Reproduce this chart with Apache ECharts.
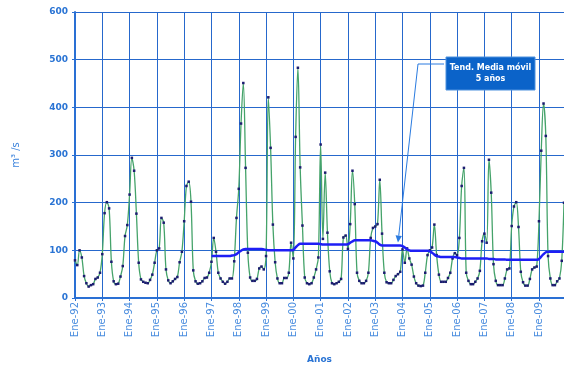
<!DOCTYPE html>
<html>
<head>
<meta charset="utf-8">
<script src="https://cdn.jsdelivr.net/npm/echarts@6/dist/echarts.min.js"></script>
<style>
  html, body { margin: 0; padding: 0; background: #ffffff; overflow: hidden; }
  #chart { width: 564px; height: 369px; }
</style>
</head>
<body>
<div id="chart"></div>
<script>
// Monthly mean flow (m3/s), January to December of each year
const yearLabels = ['92','93','94','95','96','97','98','99','00','01','02','03','04','05','06','07','08','09'];
const monthNames = ['Ene','Feb','Mar','Abr','May','Jun','Jul','Ago','Sep','Oct','Nov','Dic'];

const flow1992 = [79, 69, 100, 85, 46, 31, 24, 27, 29, 40, 43, 53];
const flow1993 = [92, 178, 201, 188, 76, 35, 29, 30, 45, 67, 130, 153];
const flow1994 = [217, 294, 267, 177, 74, 39, 34, 32, 31, 38, 49, 74];
const flow1995 = [100, 104, 168, 158, 60, 37, 31, 35, 40, 44, 75, 97];
const flow1996 = [161, 235, 244, 202, 58, 35, 30, 31, 35, 42, 43, 53];
const flow1997 = [76, 126, 97, 53, 41, 34, 30, 34, 41, 41, 77, 168];
const flow1998 = [229, 366, 451, 273, 95, 43, 36, 36, 40, 62, 66, 60];
const flow1999 = [88, 421, 315, 154, 75, 41, 31, 31, 42, 42, 53, 116];
const flow2000 = [83, 338, 483, 274, 152, 43, 31, 29, 31, 43, 60, 85];
const flow2001 = [322, 124, 263, 137, 56, 31, 29, 31, 34, 40, 127, 131];
const flow2002 = [103, 155, 267, 197, 53, 36, 31, 31, 36, 53, 126, 147];
const flow2003 = [150, 155, 248, 135, 53, 33, 31, 31, 38, 46, 50, 55];
const flow2004 = [102, 74, 104, 83, 70, 45, 31, 26, 25, 26, 53, 90];
const flow2005 = [100, 106, 154, 90, 49, 34, 34, 34, 42, 53, 83, 94];
const flow2006 = [90, 126, 235, 273, 53, 36, 29, 29, 34, 41, 57, 119];
const flow2007 = [135, 116, 290, 221, 71, 36, 27, 27, 27, 41, 60, 62];
const flow2008 = [151, 192, 201, 149, 55, 33, 26, 26, 40, 60, 64, 66];
const flow2009 = [161, 309, 408, 340, 88, 41, 27, 27, 35, 41, 78, 200];

// Five-year moving average trend, from January 1997 onwards
const trend1997 = [88, 88, 88, 88, 88, 88, 88, 88, 88, 89, 90, 92];
const trend1998 = [96, 99, 102, 103, 103, 103, 103, 103, 103, 103, 103, 102];
const trend1999 = [101, 100, 100, 100, 100, 100, 100, 100, 100, 100, 100, 100];
const trend2000 = [101, 106, 111, 114, 114, 114, 114, 114, 114, 114, 114, 114];
const trend2001 = [113, 112, 112, 112, 112, 112, 112, 112, 112, 112, 112, 112];
const trend2002 = [113, 116, 119, 121, 121, 121, 121, 121, 121, 121, 121, 120];
const trend2003 = [119, 116, 112, 110, 110, 110, 110, 110, 110, 110, 110, 110];
const trend2004 = [109, 106, 102, 100, 99, 99, 99, 99, 99, 99, 99, 99];
const trend2005 = [98, 95, 91, 88, 87, 86, 86, 86, 86, 86, 86, 86];
const trend2006 = [85, 84, 83, 83, 83, 83, 83, 83, 83, 83, 83, 83];
const trend2007 = [83, 83, 82, 82, 82, 81, 81, 81, 81, 81, 80, 80];
const trend2008 = [80, 80, 80, 80, 80, 80, 80, 80, 80, 80, 80, 80];
const trend2009 = [82, 87, 92, 96, 97, 97, 97, 97, 97, 97, 97, 97];

const flowYears = [flow1992, flow1993, flow1994, flow1995, flow1996, flow1997, flow1998, flow1999, flow2000,
  flow2001, flow2002, flow2003, flow2004, flow2005, flow2006, flow2007, flow2008, flow2009];
const trendYears = [trend1997, trend1998, trend1999, trend2000, trend2001, trend2002, trend2003,
  trend2004, trend2005, trend2006, trend2007, trend2008, trend2009];

const yAxisMax = 600;
const yAxisStep = 100;
const calloutText = 'Tend. Media móvil\n5 años';
const calloutIndex = 142; // November 2003

// Build the monthly category list and series
const categories = [];
yearLabels.forEach(y => monthNames.forEach(m => categories.push(m + '-' + y)));
const flow = [].concat(...flowYears);
const trend = new Array(60).fill(null).concat(...trendYears);

const FONT = 'DejaVu Sans';
const GRID_BLUE = '#2668cc';
const AXIS_BLUE = '#2a70d4';
const LABEL_BLUE = '#2a74d4';

const chart = echarts.init(document.getElementById('chart'), null, { renderer: 'canvas' });

chart.setOption({
  backgroundColor: '#ffffff',
  animation: false,
  grid: { left: 75, right: 0, top: 12, bottom: 67, containLabel: false },
  xAxis: {
    type: 'category',
    data: categories,
    boundaryGap: false,
    name: 'Años',
    nameLocation: 'middle',
    nameGap: 57,
    nameTextStyle: { color: LABEL_BLUE, fontFamily: FONT, fontWeight: 'bold', fontSize: 9 },
    axisLine: { show: true, lineStyle: { color: AXIS_BLUE, width: 2 } },
    axisTick: { show: true, length: 3, interval: (i) => i % 12 === 0, lineStyle: { color: AXIS_BLUE } },
    axisLabel: {
      interval: (i) => i % 12 === 0,
      rotate: 90,
      margin: 4,
      color: '#4a8ddf',
      fontFamily: FONT,
      fontSize: 10
    },
    splitLine: { show: true, interval: (i) => i % 12 === 0, lineStyle: { color: GRID_BLUE, width: 1 } }
  },
  yAxis: {
    type: 'value',
    min: 0,
    max: yAxisMax,
    interval: yAxisStep,
    name: 'm³ /s',
    nameLocation: 'middle',
    nameRotate: 90,
    nameGap: 54,
    nameTextStyle: { color: '#3a82dc', fontFamily: FONT, fontSize: 10, padding: [0, 0, 0, 0] },
    axisLine: { show: true, lineStyle: { color: AXIS_BLUE, width: 2 } },
    axisTick: { show: true, length: 3, lineStyle: { color: AXIS_BLUE } },
    axisLabel: { color: LABEL_BLUE, fontFamily: FONT, fontWeight: 'bold', fontSize: 9, margin: 7 },
    splitLine: { show: true, lineStyle: { color: GRID_BLUE, width: 1 } }
  },
  series: [
    {
      name: 'Caudal',
      type: 'line',
      data: flow,
      smooth: 0.35,
      showAllSymbol: true,
      symbol: 'rect',
      symbolSize: 2.5,
      itemStyle: { color: '#1c1c70' },
      lineStyle: { color: '#45a36a', width: 1.3 },
      z: 3
    },
    {
      name: 'Tend. Media móvil 5 años',
      type: 'line',
      data: trend,
      smooth: 0.3,
      showSymbol: false,
      connectNulls: false,
      lineStyle: { color: '#1e1ef5', width: 2.5 },
      z: 4
    }
  ]
});

// Callout pointing at the moving average line
const tip = chart.convertToPixel({ xAxisIndex: 0, yAxisIndex: 0 }, [calloutIndex, trend[calloutIndex]]);
const tipX = tip[0];
const tipY = tip[1] - 3;
const elbow = [418, 64];
const dx = tipX - elbow[0], dy = tipY - elbow[1];
const len = Math.sqrt(dx * dx + dy * dy);
const ux = dx / len, uy = dy / len;
const headLen = 7, headHalf = 3.2;
const bx = tipX - ux * headLen, by = tipY - uy * headLen;

chart.setOption({
  graphic: [
    {
      type: 'polyline',
      shape: { points: [[444, 64], elbow, [bx, by]] },
      style: { stroke: '#2a7be0', lineWidth: 1, fill: null },
      z: 10
    },
    {
      type: 'polygon',
      shape: { points: [[tipX, tipY], [bx - uy * headHalf, by + ux * headHalf], [bx + uy * headHalf, by - ux * headHalf]] },
      style: { fill: '#2a7be0' },
      z: 10
    },
    {
      type: 'rect',
      shape: { x: 446, y: 57, width: 89, height: 33 },
      style: { fill: '#0b63c9', stroke: '#4f92de', lineWidth: 1 },
      z: 10
    },
    {
      type: 'text',
      x: 490.5,
      y: 73.5,
      style: {
        text: calloutText,
        fill: '#ffffff',
        font: 'bold 8px "DejaVu Sans"',
        align: 'center',
        verticalAlign: 'middle',
        lineHeight: 11
      },
      z: 11
    }
  ]
});
</script>
</body>
</html>
